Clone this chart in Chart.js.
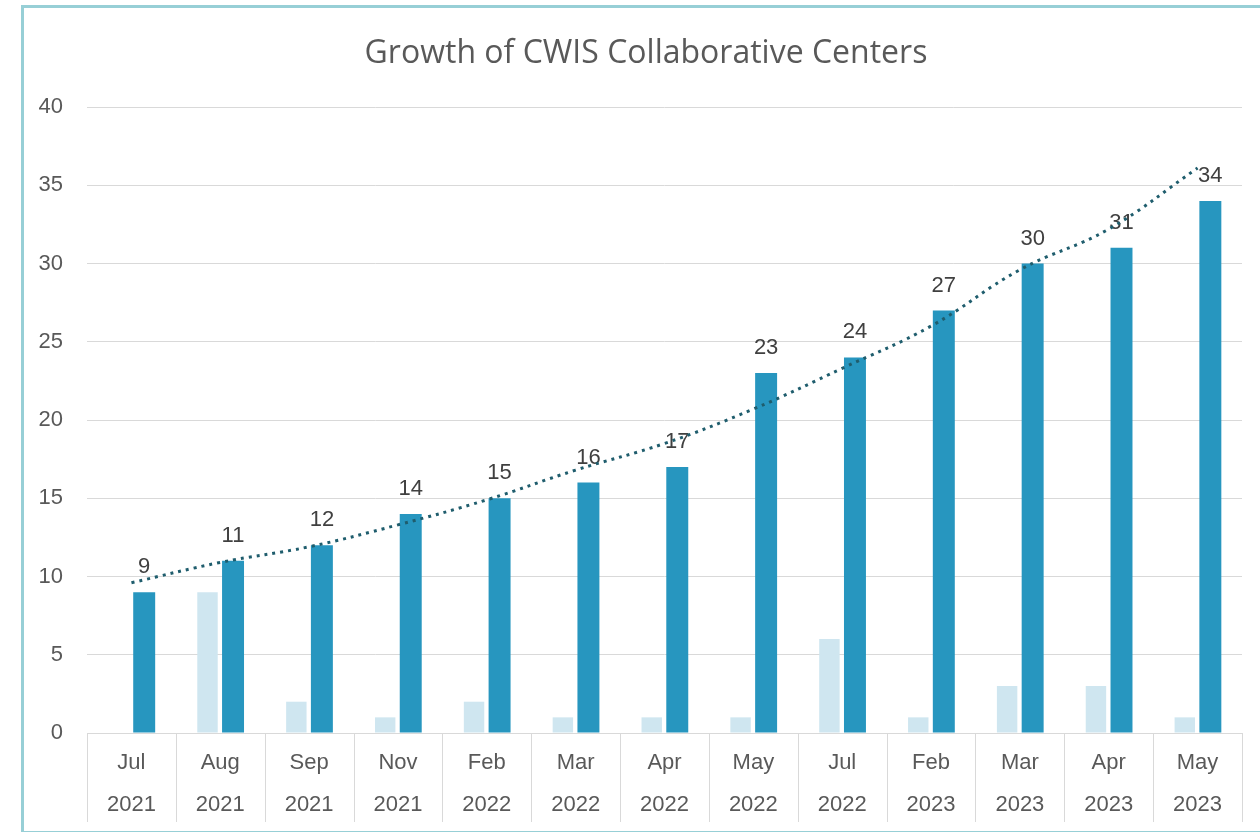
<!DOCTYPE html>
<html>
<head>
<meta charset="utf-8">
<script src="https://cdn.jsdelivr.net/npm/chart.js@4.4.0/dist/chart.umd.min.js"></script>
<style>
  html, body { margin: 0; padding: 0; background: #ffffff; overflow: hidden; }
  #wrap { position: relative; width: 1260px; height: 832px; }
  #frame { position: absolute; left: 21px; top: 5px; width: 1300px; height: 829px;
           box-sizing: border-box; border: 3px solid #97cfd6; pointer-events: none; }
  canvas { display: block; }
</style>
</head>
<body>
<div id="wrap">
  <canvas id="c" width="1260" height="832"></canvas>
  <div id="frame"></div>
</div>
<script>
const chartTitle = "Growth of CWIS Collaborative Centers";
const months = ["Jul","Aug","Sep","Nov","Feb","Mar","Apr","May","Jul","Feb","Mar","Apr","May"];
const years  = ["2021","2021","2021","2021","2022","2022","2022","2022","2022","2023","2023","2023","2023"];
const newCenters   = [0, 9, 2, 1, 2, 1, 1, 1, 6, 1, 3, 3, 1];
const totalCenters = [9, 11, 12, 14, 15, 16, 17, 23, 24, 27, 30, 31, 34];
const trendValues  = [9.6, 10.9, 11.9, 13.3, 14.9, 16.8, 18.5, 20.7, 23.3, 26.0, 29.6, 32.2, 36.1];
const yTicks = [0, 5, 10, 15, 20, 25, 30, 35, 40];

const labels = months.map((m, i) => [m, years[i]]);
const GRID = '#d9d9d9';
const TEXT = '#595959';

const valueLabels = {
  id: 'valueLabels',
  afterDatasetDraw(chart, args) {
    if (args.index !== 2) return;
    const ctx = chart.ctx;
    ctx.save();
    ctx.font = '22px "Liberation Sans", Arial, sans-serif';
    ctx.fillStyle = '#404040';
    ctx.textAlign = 'center';
    ctx.textBaseline = 'middle';
    args.meta.data.forEach((el, i) => {
      ctx.fillText(String(totalCenters[i]), el.x, el.y - 25);
    });
    ctx.restore();
  }
};

const categorySeparators = {
  id: 'categorySeparators',
  afterLayout(chart) {
    if (chart.titleBlock) { chart.titleBlock.left = 50; }
  },
  afterDraw(chart) {
    const xs = chart.scales.x;
    const n = labels.length;
    const half = (xs.getPixelForValue(1) - xs.getPixelForValue(0)) / 2;
    const ctx = chart.ctx;
    ctx.save();
    ctx.strokeStyle = GRID;
    ctx.lineWidth = 1;
    for (let i = 0; i <= n; i++) {
      const x = Math.round(xs.getPixelForValue(Math.min(i, n - 1)) + (i === n ? half : -half)) + 0.5;
      ctx.beginPath();
      ctx.moveTo(x, chart.chartArea.bottom);
      ctx.lineTo(x, xs.bottom - 10);
      ctx.stroke();
    }
    ctx.restore();
  }
};

new Chart(document.getElementById('c'), {
  type: 'bar',
  data: {
    labels: labels,
    datasets: [
      {
        type: 'line',
        label: 'Trend',
        data: trendValues,
        borderColor: '#1f5d6d',
        borderWidth: 3,
        borderDash: [3, 5],
        pointRadius: 0,
        tension: 0.4,
        fill: false,
        order: 0
      },
      {
        label: 'New',
        data: newCenters,
        backgroundColor: '#cfe6f0',
        categoryPercentage: 0.575,
        barPercentage: 0.8,
        order: 1
      },
      {
        label: 'Total',
        data: totalCenters,
        backgroundColor: '#2796bf',
        categoryPercentage: 0.575,
        barPercentage: 0.86,
        order: 2
      }
    ]
  },
  options: {
    responsive: false,
    devicePixelRatio: 1,
    animation: false,
    layout: { padding: { left: 0, right: 18, top: 0, bottom: 0 } },
    plugins: {
      legend: { display: false },
      tooltip: { enabled: false },
      title: {
        display: true,
        text: chartTitle,
        color: TEXT,
        font: { family: '"Open Sans", sans-serif', size: 32, weight: 'normal', lineHeight: 1.2 },
        padding: { top: 35, bottom: 33.6 }
      }
    },
    scales: {
      x: {
        offset: true,
        grid: { display: true, drawOnChartArea: false, drawTicks: false },
        border: { display: true, color: GRID, width: 1 },
        ticks: {
          color: TEXT,
          font: { family: '"Liberation Sans", Arial, sans-serif', size: 22, lineHeight: 1.91 },
          padding: 9,
          maxRotation: 0,
          autoSkip: false
        },
        afterFit(scale) { scale.height = 99; }
      },
      y: {
        min: 0,
        max: 40,
        afterBuildTicks(scale) { scale.ticks = yTicks.map(v => ({ value: v })); },
        grid: { color: GRID, lineWidth: 1, drawTicks: false },
        border: { display: false },
        ticks: {
          color: TEXT,
          font: { family: '"Liberation Sans", Arial, sans-serif', size: 22 },
          padding: 24
        },
        afterFit(scale) { scale.width = 87; }
      }
    }
  },
  plugins: [valueLabels, categorySeparators]
});
</script>
</body>
</html>
